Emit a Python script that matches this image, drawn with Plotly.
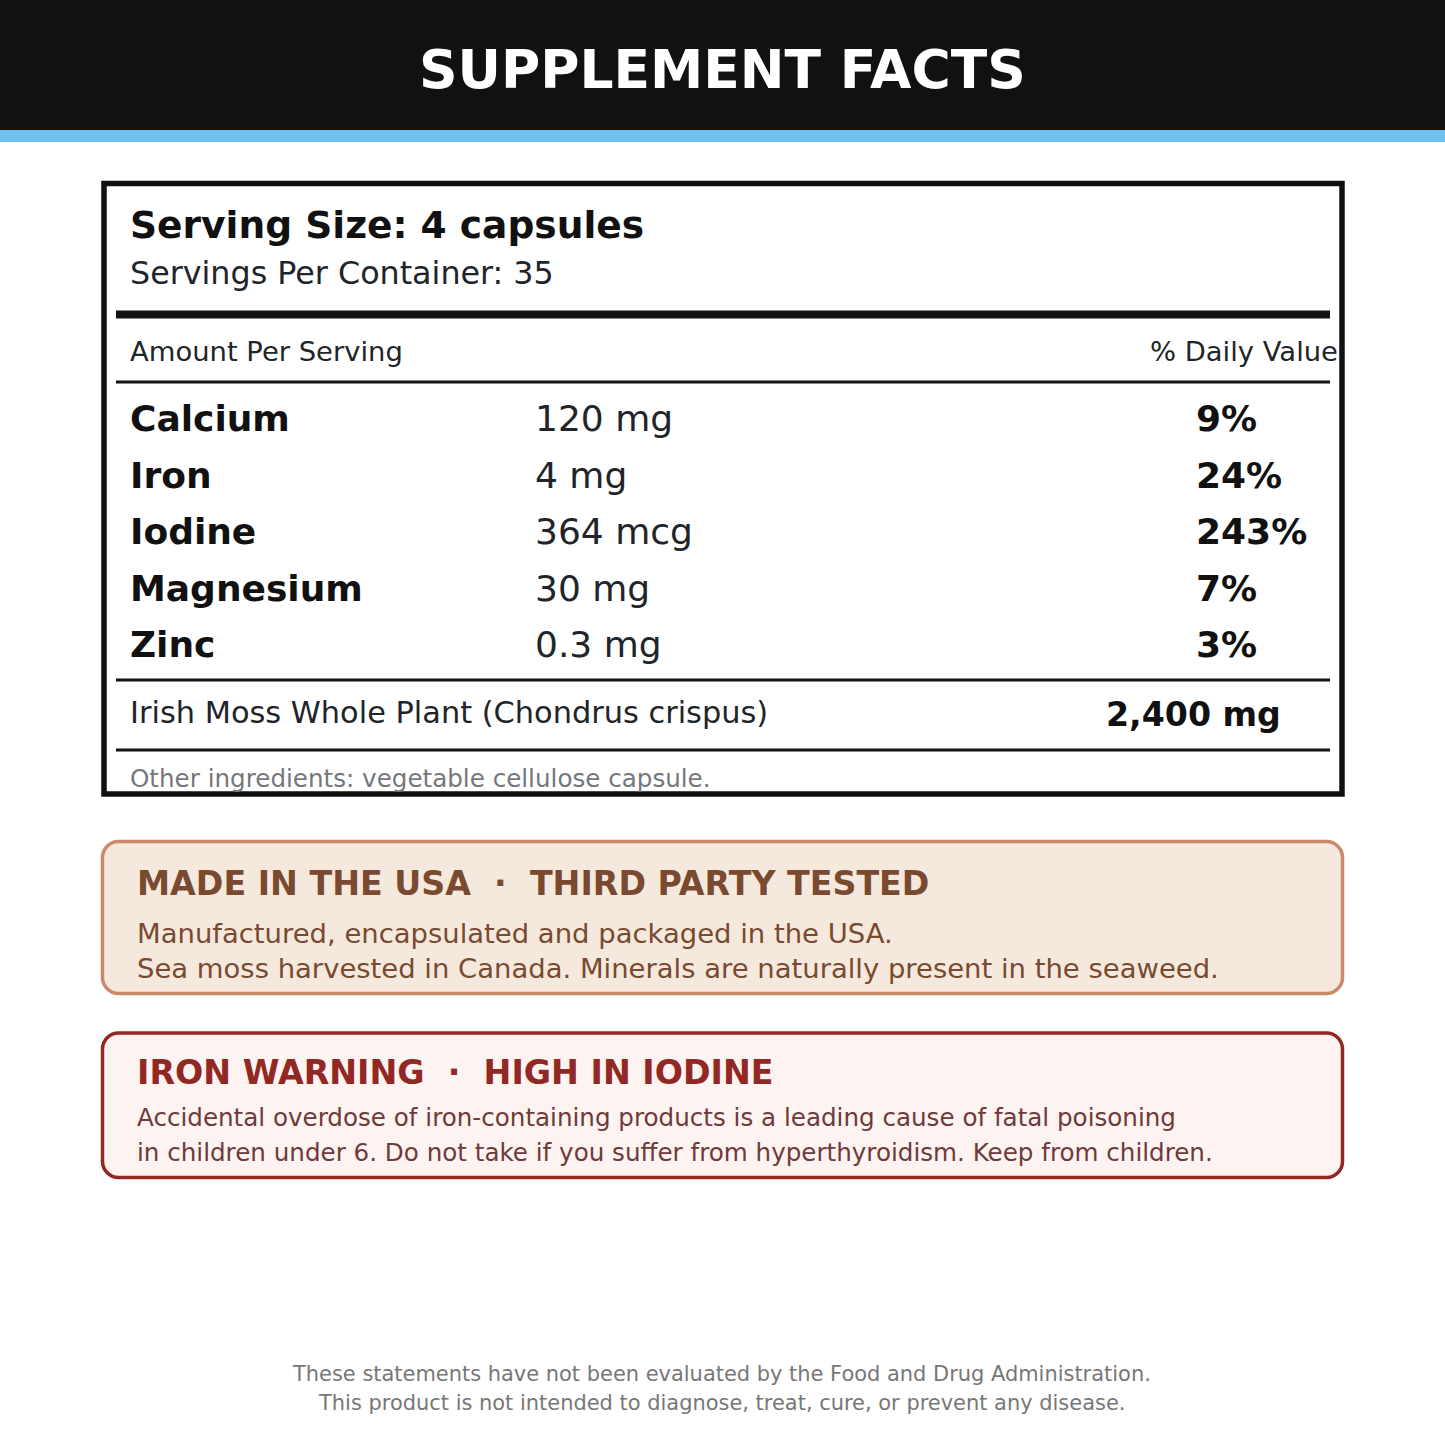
"""Supplement facts label drawn on a pixel-sized Plotly canvas."""
import plotly.graph_objects as go

FONT = "DejaVu Sans"
INK = "#111111"
BODY = "#212529"
MUTED = "#74787d"
BROWN = "#7a4a30"
RED = "#922824"

nutrients = ["Calcium", "Iron", "Iodine", "Magnesium", "Zinc"]
amounts = ["120 mg", "4 mg", "364 mcg", "30 mg", "0.3 mg"]
daily_values = ["9%", "24%", "243%", "7%", "3%"]
nutrient_y = [418, 475, 531, 588, 644]


def rounded(x0, y0, x1, y1, r):
    k = r * 0.45
    return (f"M{x0 + r},{y0} L{x1 - r},{y0} C{x1 - k},{y0} {x1},{y0 + k} {x1},{y0 + r} "
            f"L{x1},{y1 - r} C{x1},{y1 - k} {x1 - k},{y1} {x1 - r},{y1} "
            f"L{x0 + r},{y1} C{x0 + k},{y1} {x0},{y1 - k} {x0},{y1 - r} "
            f"L{x0},{y0 + r} C{x0},{y0 + k} {x0 + k},{y0} {x0 + r},{y0} Z")


fig = go.Figure()


def rect(x0, y0, x1, y1, fill="rgba(0,0,0,0)", line=None, width=0):
    fig.add_shape(type="rect", x0=x0, y0=y0, x1=x1, y1=y1, fillcolor=fill,
                  line=dict(color=line or fill, width=width))


def rule(y, width):
    fig.add_shape(type="line", x0=116, x1=1330, y0=y, y1=y, line=dict(color=INK, width=width))


def text(x, y, s, size, color=BODY, bold=False, anchor="left"):
    fig.add_annotation(x=x, y=y, text=f"<b>{s}</b>" if bold else s, showarrow=False,
                       xanchor=anchor, yanchor="middle", align=anchor,
                       borderpad=0, font=dict(family=FONT, size=size, color=color))


rect(0, 0, 1445, 130, fill=INK)
rect(0, 130, 1445, 142, fill="#6fc0ee")
text(722, 69, "SUPPLEMENT FACTS", 53.5, "#ffffff", True, "center")

rect(104, 183.5, 1342, 794, fill="#ffffff", line=INK, width=5.5)
text(129, 225, "Serving Size: 4 capsules", 37.6, INK, True)
text(129, 273, "Servings Per Container: 35", 31.75)
rule(314.5, 8)
text(129, 351, "Amount Per Serving", 27.4)
text(1149, 351, "% Daily Value", 27.4)
rule(382, 3)

for name, amount, dv, y in zip(nutrients, amounts, daily_values, nutrient_y):
    text(129, y, name, 36, INK, True)
    text(534, y, amount, 36)
    text(1195, y, dv, 36, INK, True)

rule(680, 3)
text(129, 712, "Irish Moss Whole Plant (Chondrus crispus)", 30.4)
text(1282, 714, "2,400 mg", 33.2, INK, True, "right")
rule(750, 3)
text(129, 778, "Other ingredients: vegetable cellulose capsule.", 24.6, MUTED)

fig.add_shape(type="path", path=rounded(102.5, 841.5, 1342.5, 993.5, 16), fillcolor="#f5e9de",
              line=dict(color="#c98a6a", width=3.5))
text(136, 883, "MADE IN THE USA  ·  THIRD PARTY TESTED", 33.25, BROWN, True)
text(136, 933, "Manufactured, encapsulated and packaged in the USA.", 27.45, BROWN)
text(136, 968, "Sea moss harvested in Canada. Minerals are naturally present in the seaweed.", 27.45, BROWN)

fig.add_shape(type="path", path=rounded(102.5, 1033, 1342.5, 1177.5, 16), fillcolor="#fdf3f1",
              line=dict(color=RED, width=3.5))
text(136, 1072, "IRON WARNING  ·  HIGH IN IODINE", 33.27, RED, True)
text(136, 1117, "Accidental overdose of iron-containing products is a leading cause of fatal poisoning", 24.6, "#6e3a3a")
text(136, 1152, "in children under 6. Do not take if you suffer from hyperthyroidism. Keep from children.", 24.6, "#6e3a3a")

text(721.5, 1374, "These statements have not been evaluated by the Food and Drug Administration.", 20.95, "#777777", False, "center")
text(721, 1403, "This product is not intended to diagnose, treat, cure, or prevent any disease.", 20.95, "#777777", False, "center")

fig.update_layout(
    width=1445, height=1445, autosize=False, showlegend=False,
    margin=dict(l=0, r=0, t=0, b=0),
    paper_bgcolor="#ffffff", plot_bgcolor="#ffffff",
    xaxis=dict(range=[0, 1445], visible=False, fixedrange=True),
    yaxis=dict(range=[1445, 0], visible=False, fixedrange=True),
)
# the page's default body margin would push the canvas 8px in
fig.write_html("out.html", config=dict(displayModeBar=False),
               post_script="document.body.style.margin='0';")
